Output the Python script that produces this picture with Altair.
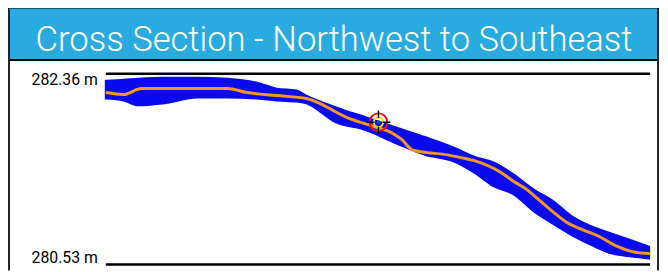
import altair as alt
import pandas as pd

# Distance along the section (0-100 units) and elevation (m)
band_dist = [0, 3.27, 5.99, 10.53, 16.88, 22.32, 27.77, 31.40, 35.03, 36.84, 42.29,
             47.73, 53.18, 58.62, 64.07, 67.70, 71.33, 74.95, 78.58, 82.21, 85.84,
             89.47, 93.10, 96.73, 99.82]
band_upper = [282.294, 282.303, 282.313, 282.322, 282.322, 282.313, 282.275, 282.218,
              282.199, 282.151, 282.038, 281.943, 281.848, 281.753, 281.649, 281.564,
              281.507, 281.393, 281.251, 281.137, 280.985, 280.890, 280.824, 280.758,
              280.701]
band_lower = [282.123, 282.104, 282.057, 282.076, 282.132, 282.132, 282.123, 282.104,
              282.094, 282.076, 281.895, 281.820, 281.696, 281.582, 281.516, 281.412,
              281.279, 281.203, 281.042, 280.919, 280.805, 280.710, 280.634, 280.606,
              280.587]

line_dist = [0, 3.27, 6.53, 13.25, 22.32, 25.95, 31.40, 36.84, 44.65, 49.55, 52.63,
             54.45, 56.26, 58.08, 62.79, 65.34, 67.70, 72.60, 74.95, 77.31, 79.85,
             82.21, 84.57, 87.66, 90.74, 93.65, 96.73, 100]
line_elev = [282.180, 282.161, 282.218, 282.218, 282.218, 282.180, 282.151, 282.123,
             281.933, 281.848, 281.791, 281.725, 281.630, 281.611, 281.582, 281.554,
             281.526, 281.412, 281.327, 281.251, 281.137, 281.033, 280.938, 280.862,
             280.796, 280.710, 280.653, 280.634]

elev_max = 282.36
elev_min = 280.53
label_max = "282.36 m"
label_min = "280.53 m"
title_text = "Cross Section - Northwest to Southeast"
marker_dist = [50.09]
marker_elev = [281.895]

band_df = pd.DataFrame({"d": band_dist, "up": band_upper, "lo": band_lower})
line_df = pd.DataFrame({"d": line_dist, "e": line_elev})
lim_df = pd.DataFrame({"d0": [0, 0], "d1": [100, 100], "e": [elev_max, elev_min],
                       "label": [label_max, label_min]})
mk_df = pd.DataFrame({"d": marker_dist, "e": marker_elev})

xs = alt.Scale(domain=[0, 100], range=[99, 650])
ys = alt.Scale(domain=[elev_min, elev_max], range=[258, 65])

X = lambda f: alt.X(f, type="quantitative", scale=xs, axis=None)
Y = lambda f: alt.Y(f, type="quantitative", scale=ys, axis=None)

band = alt.Chart(band_df).mark_area(color="#0a0af0", opacity=1, interpolate="monotone",
                                    stroke="#0a0af0", strokeWidth=2).encode(
    x=X("d"), y=Y("up"), y2="lo")
line = alt.Chart(line_df).mark_line(color="#f6961e", strokeWidth=3, interpolate="monotone").encode(
    x=X("d"), y=Y("e"))
rules = alt.Chart(lim_df).mark_rule(color="black", strokeWidth=2.5).encode(
    x=X("d0"), x2="d1", y=Y("e"))
lab_top = alt.Chart(lim_df.iloc[[0]]).mark_text(align="right", baseline="top", dx=-8, dy=-2,
                                                font="Roboto", fontSize=16, color="black").encode(
    x=X("d0"), y=Y("e"), text="label")
lab_bot = alt.Chart(lim_df.iloc[[1]]).mark_text(align="right", baseline="bottom", dx=-8, dy=2,
                                                font="Roboto", fontSize=16, color="black").encode(
    x=X("d0"), y=Y("e"), text="label")

m_red = alt.Chart(mk_df).mark_point(shape="circle", size=324, filled=False, color="#e81010",
                                    strokeWidth=2, opacity=1).encode(x=X("d"), y=Y("e"))
m_yel = alt.Chart(mk_df).mark_point(shape="circle", size=90, filled=False, color="#f0e000",
                                    strokeWidth=2, opacity=1).encode(x=X("d"), y=Y("e"))
m_dot = alt.Chart(mk_df).mark_point(shape="circle", size=16, filled=True, color="#1040c0",
                                    opacity=1).encode(x=X("d"), y=Y("e"))
m_cross = alt.Chart(mk_df).mark_point(shape="M -1 0 L -0.35 0 M 0.35 0 L 1 0 M 0 -1 L 0 -0.35 M 0 0.35 L 0 1",
                                      size=576, filled=False, color="black", strokeWidth=1.5,
                                      opacity=1).encode(x=X("d"), y=Y("e"))

# decoration: title bar and frame
deco_df = pd.DataFrame({"t": [title_text]})
title_bar = alt.Chart(deco_df).mark_rect(color="#29aae1", stroke="black", strokeWidth=2).encode(
    x=alt.value(0), x2=alt.value(658), y=alt.value(-2), y2=alt.value(51))
title_txt = alt.Chart(deco_df).mark_text(font="Roboto", fontWeight=300, fontSize=35, color="white",
                                         align="center", baseline="alphabetic").encode(
    x=alt.value(330), y=alt.value(42), text="t")
frame_l = alt.Chart(deco_df).mark_rule(color="#222", strokeWidth=2).encode(
    x=alt.value(1), y=alt.value(0), y2=alt.value(264))
frame_r = alt.Chart(deco_df).mark_rule(color="#222", strokeWidth=2).encode(
    x=alt.value(658), y=alt.value(0), y2=alt.value(264))

chart = alt.layer(title_bar, frame_l, frame_r, title_txt, band, line, rules, lab_top, lab_bot,
                  m_red, m_yel, m_cross, m_dot).properties(
    width=660, height=264, padding=0, autosize="none", background="white"
).configure_view(strokeWidth=0)

chart.save("out.html", embed_options={"renderer": "svg", "actions": False})
